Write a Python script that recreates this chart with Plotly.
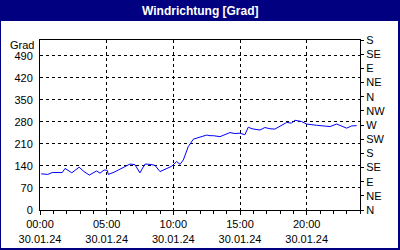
import plotly.graph_objects as go

times = ["00:05","00:35","00:55","01:20","01:40","01:53","02:23","02:56","03:18","03:42",
         "04:15","04:30","04:48","05:03","05:07","05:33","06:00","06:23","06:45","07:07",
         "07:21","07:30","07:39","07:53","08:15","08:37","09:00","09:30","09:53","10:15",
         "10:30","10:45","11:07","11:30","12:00","12:30","12:45","13:00","13:30","13:52",
         "14:15","14:37","15:00","15:22","15:37","15:54","16:15","16:30","16:52","17:15",
         "17:37","18:00","18:30","18:52","19:07","19:37","20:00","20:45","21:45","22:15",
         "23:00","23:22","23:45"]
values = [115,113,119,118,119,132,118,136,122,111,
          124,117,127,126,113,120,129,138,146,144,
          130,118,130,146,145,142,122,133,139,154,
          145,159,201,225,231,238,236,236,233,240,
          246,243,244,239,263,258,255,254,262,258,
          257,265,278,276,285,281,273,269,265,273,
          260,267,268]
left_ticks = [0, 70, 140, 210, 280, 350, 420, 490]
dir_vals = [0, 45, 90, 135, 180, 225, 270, 315, 360, 405, 450, 495, 540]
dir_text = ["N","NE","E","SE","S","SW","W","NW","N","NE","E","SE","S"]
title = "Windrichtung [Grad]"
unit = "Grad"

x = ["2024-01-30 " + t for t in times]
FONT = "Liberation Sans"

fig = go.Figure()
fig.add_trace(go.Scatter(x=x, y=values, mode="lines",
                         line=dict(color="#0000ff", width=1), hoverinfo="skip"))
fig.add_trace(go.Scatter(x=[x[0]], y=[0], yaxis="y2", mode="markers",
                         marker=dict(opacity=0), hoverinfo="skip"))

fig.update_layout(
    width=400, height=250,
    margin=dict(l=40, r=40, t=40, b=40),
    paper_bgcolor="#000080", plot_bgcolor="rgba(0,0,0,0)",
    showlegend=False,
    font=dict(family=FONT, size=11, color="black"),
    xaxis=dict(
        type="date", automargin=False,
        range=["2024-01-30 00:00", "2024-01-31 00:00"],
        tick0="2024-01-30 00:00", dtick=5*3600000,
        tickformat="%H:%M<br>%d.%m.%y",
        showgrid=True, gridcolor="black", griddash="3px,3px", gridwidth=1,
        showline=True, linecolor="black", linewidth=1, mirror=True,
        ticks="outside", ticklen=4, tickcolor="black",
        minor=dict(dtick=3600000, ticks="outside", ticklen=3, tickcolor="black", showgrid=False),
        zeroline=False, fixedrange=True,
    ),
    yaxis=dict(
        range=[0, 540], tickvals=left_ticks, automargin=False,
        showgrid=True, gridcolor="black", griddash="3px,3px", gridwidth=1,
        showline=True, linecolor="black", linewidth=1, mirror=True,
        ticks="", zeroline=False, ticklabelstandoff=4,
    ),
    yaxis2=dict(
        overlaying="y", side="right", range=[0, 540], automargin=False,
        tickvals=dir_vals, ticktext=dir_text,
        showgrid=False, zeroline=False, showline=False,
        ticks="outside", ticklen=3, tickcolor="black",
    ),
    shapes=[dict(type="rect", xref="paper", yref="paper",
                 x0=(1-40)/320, x1=(398-40)/320,
                 y0=(210-248)/170, y1=(210-21)/170,
                 fillcolor="white", line=dict(width=0), layer="below")],
    annotations=[
        dict(text="<b>" + title + "</b>", xref="paper", yref="paper",
             x=0.5, y=(210-11)/170, xanchor="center", yanchor="middle",
             showarrow=False, font=dict(family=FONT, size=12, color="white")),
        dict(text=unit, xref="paper", yref="paper",
             x=(36-40)/320, y=(210-45)/170, xanchor="right", yanchor="middle",
             showarrow=False, font=dict(family=FONT, size=11, color="black")),
    ],
)

fig.write_html("out.html")
